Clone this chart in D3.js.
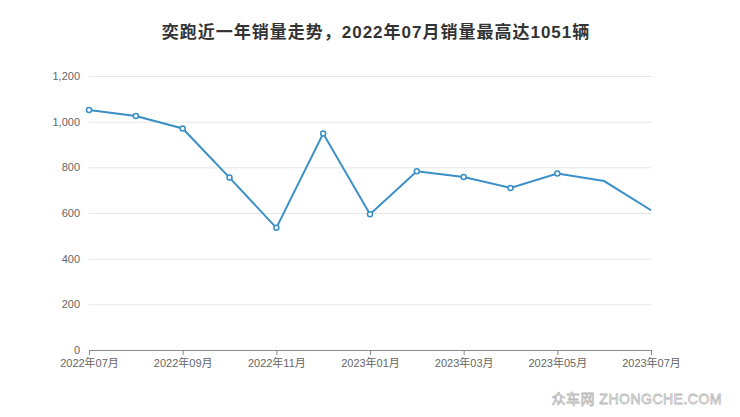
<!DOCTYPE html>
<html>
<head>
<meta charset="utf-8">
<script src="https://cdn.jsdelivr.net/npm/d3@7"></script>
<style>
  body { margin: 0; background: #fff; }
  text { font-family: "Liberation Sans", "Noto Sans CJK SC", sans-serif; }
</style>
</head>
<body>
<svg id="chart"></svg>
<script>
// monthly sales, 2022-07 .. 2023-07
const months = ['2022年07月', '2022年08月', '2022年09月', '2022年10月', '2022年11月', '2022年12月',
  '2023年01月', '2023年02月', '2023年03月', '2023年04月', '2023年05月', '2023年06月', '2023年07月']
const sales = [1051, 1025, 970, 755, 535, 948, 595, 783, 758, 710, 773, 740, 612]
const yTicks = [0, 200, 400, 600, 800, 1000, 1200]
const xTickLabels = ['2022年07月', '2022年09月', '2022年11月', '2023年01月', '2023年03月', '2023年05月', '2023年07月']
const hiddenMarkers = ['2023年06月', '2023年07月']

const W = 740, H = 417
const margin = {top: 76, right: 89, bottom: 67, left: 89}
const width = W - margin.left - margin.right
const height = H - margin.top - margin.bottom

const svg = d3.select('#chart').attr('width', W).attr('height', H)

svg.append('text')
  .attr('x', W / 2 + 6)
  .attr('y', 38)
  .attr('text-anchor', 'middle')
  .attr('font-size', 17)
  .attr('font-weight', 'bold')
  .attr('letter-spacing', 1)
  .attr('fill', '#333')
  .text('奕跑近一年销量走势，2022年07月销量最高达1051辆')

const g = svg.append('g').attr('transform', `translate(${margin.left},${margin.top})`)

const x = d3.scalePoint().domain(months).range([0, width])
const y = d3.scaleLinear().domain([0, 1200]).range([height, 0])

// y axis: labels + grid, no axis line
const yAxisG = g.append('g')
  .call(d3.axisLeft(y).tickValues(yTicks).tickFormat(d3.format(',')).tickSize(-width).tickPadding(9))
yAxisG.select('.domain').remove()
yAxisG.selectAll('.tick line').attr('stroke', '#e6e6e6')
yAxisG.selectAll('.tick text').attr('fill', '#666').attr('font-size', 11)

// x axis
const xAxisG = g.append('g')
  .attr('transform', `translate(0,${height})`)
  .call(d3.axisBottom(x).tickValues(xTickLabels).tickSize(5).tickSizeOuter(0).tickPadding(4))
xAxisG.select('.domain').attr('stroke', '#888').attr('stroke-width', 1.2)
xAxisG.selectAll('.tick line').attr('stroke', '#888')
xAxisG.selectAll('.tick text').attr('fill', '#666').attr('font-size', 11)

const line = d3.line()
  .x((d, i) => x(months[i]))
  .y(d => y(d))

g.append('path')
  .datum(sales)
  .attr('fill', 'none')
  .attr('stroke', '#3a8fc6')
  .attr('stroke-width', 2)
  .attr('d', line)

g.selectAll('circle')
  .data(sales.map((v, i) => ({m: months[i], v})).filter(d => !hiddenMarkers.includes(d.m)))
  .join('circle')
    .attr('cx', d => x(d.m))
    .attr('cy', d => y(d.v))
    .attr('r', 2.5)
    .attr('fill', '#fff')
    .attr('stroke', '#3a8fc6')
    .attr('stroke-width', 1.5)

// watermark
svg.append('text')
  .attr('x', 722)
  .attr('y', 404)
  .attr('text-anchor', 'end')
  .attr('font-size', 14)
  .attr('letter-spacing', 0.5)
  .attr('fill', '#fff')
  .attr('stroke', '#bbb')
  .attr('stroke-width', 0.8)
  .text('众车网  ZHONGCHE.COM')
</script>
</body>
</html>
